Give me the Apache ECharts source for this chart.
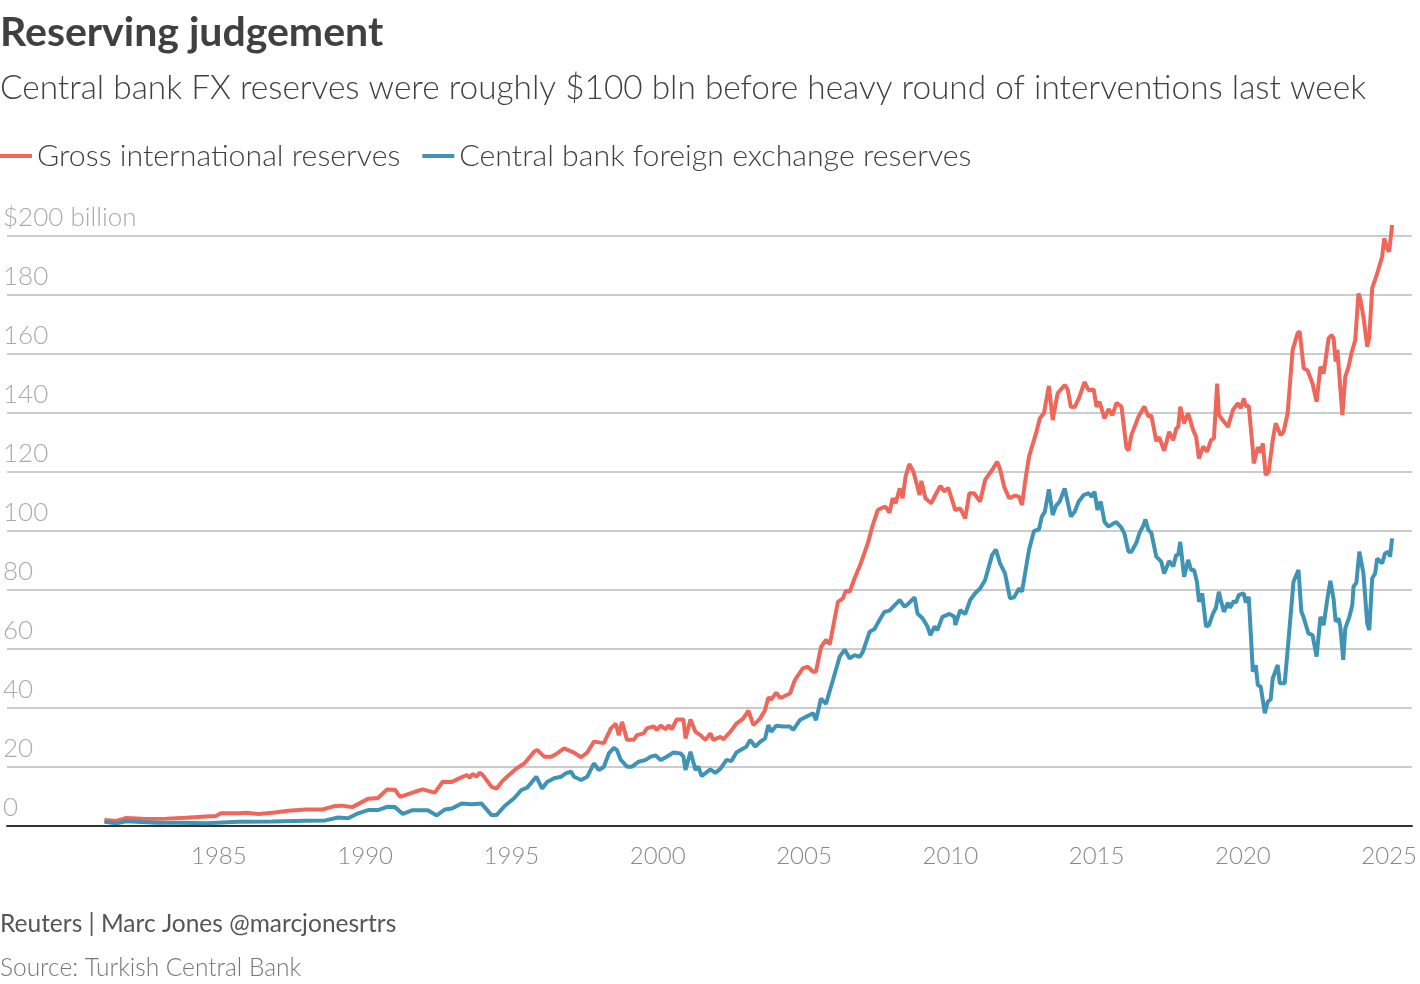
<!DOCTYPE html>
<html>
<head>
<meta charset="utf-8">
<script src="https://cdn.jsdelivr.net/npm/echarts@6/dist/echarts.min.js"></script>
<style>
html,body{margin:0;padding:0;background:#fff;}
#chart{width:1420px;height:984px;}
</style>
</head>
<body>
<div id="chart"></div>
<script>
// Gross international reserves, $ bln: [decimal year, value]
const grossYears = [1981.09,1981.50,1981.84,1982.52,1983.20,1983.88,1984.56,1984.90,1985.07,1985.68,1985.92,1986.36,1986.84,1987.38,1987.96,1988.54,1988.98,1989.22,1989.56,1990.10,1990.44,1990.75,1991.02,1991.19,1991.70,1991.97,1992.38,1992.65,1992.96,1993.16,1993.47,1993.57,1993.67,1993.81,1993.91,1994.01,1994.32,1994.49,1994.69,1994.86,1995.17,1995.44,1995.78,1995.88,1996.12,1996.36,1996.56,1996.80,1997.14,1997.38,1997.59,1997.82,1998.16,1998.40,1998.57,1998.67,1998.78,1998.95,1999.18,1999.29,1999.52,1999.63,1999.86,1999.97,2000.10,2000.27,2000.37,2000.48,2000.65,2000.88,2000.95,2001.12,2001.29,2001.46,2001.63,2001.80,2001.90,2002.14,2002.24,2002.48,2002.69,2002.92,2003.10,2003.27,2003.50,2003.67,2003.78,2003.88,2004.05,2004.19,2004.52,2004.69,2004.96,2005.13,2005.31,2005.41,2005.58,2005.75,2005.88,2006.05,2006.16,2006.33,2006.43,2006.56,2006.73,2006.94,2007.18,2007.35,2007.52,2007.69,2007.79,2007.92,2008.03,2008.13,2008.27,2008.37,2008.47,2008.60,2008.74,2008.95,2009.01,2009.15,2009.35,2009.49,2009.66,2009.79,2009.93,2010.17,2010.34,2010.51,2010.65,2010.81,2011.02,2011.19,2011.43,2011.60,2011.70,2011.84,2012.01,2012.21,2012.35,2012.45,2012.55,2012.69,2012.86,2012.96,2013.06,2013.20,2013.37,2013.50,2013.67,2013.91,2014.01,2014.12,2014.25,2014.39,2014.59,2014.73,2014.90,2015.00,2015.10,2015.27,2015.41,2015.54,2015.68,2015.85,2016.02,2016.09,2016.19,2016.43,2016.63,2016.77,2016.87,2017.04,2017.14,2017.31,2017.48,2017.62,2017.72,2017.79,2017.86,2017.99,2018.13,2018.30,2018.40,2018.50,2018.64,2018.78,2018.91,2019.01,2019.12,2019.18,2019.49,2019.66,2019.83,2019.93,2020.03,2020.10,2020.20,2020.34,2020.37,2020.51,2020.61,2020.68,2020.78,2020.88,2021.02,2021.12,2021.29,2021.39,2021.53,2021.70,2021.87,2021.94,2022.08,2022.21,2022.38,2022.52,2022.65,2022.76,2022.93,2023.03,2023.10,2023.17,2023.23,2023.40,2023.50,2023.61,2023.71,2023.84,2023.95,2024.01,2024.12,2024.25,2024.32,2024.42,2024.59,2024.76,2024.83,2024.93,2025.00,2025.10];
const grossValues = [2.0,1.7,2.7,2.4,2.5,2.8,3.2,3.4,4.3,4.3,4.5,4.1,4.5,5.2,5.6,5.6,6.8,6.9,6.4,9.2,9.5,12.4,12.3,9.9,11.6,12.4,11.3,15.0,14.9,15.9,17.3,16.4,17.6,16.8,18.1,17.4,13.3,12.7,15.2,16.8,19.5,21.2,25.2,25.8,23.5,23.5,24.6,26.3,24.9,23.3,24.9,28.6,28.1,33.1,34.7,30.8,35.3,29.2,29.2,30.8,31.4,33.1,33.8,32.6,34.0,32.8,34.1,32.8,36.1,36.1,29.7,36.1,31.9,30.8,29.2,31.4,29.2,30.2,29.4,31.9,34.7,36.4,39.1,34.2,36.4,39.3,43.6,42.9,45.2,43.4,44.9,49.5,53.4,54.0,52.3,52.3,60.6,63.1,61.6,70.4,76.0,77.2,79.8,79.4,84.0,89.0,95.8,102.0,107.1,108.0,108.2,106.2,111.1,109.4,114.4,111.1,118.4,122.7,120.1,112.2,117.0,111.1,109.4,112.2,115.3,113.4,114.6,107.1,107.7,104.3,112.8,112.8,110.0,117.3,120.7,123.5,121.0,115.0,111.1,112.0,111.6,108.8,116.2,125.2,130.8,134.2,138.2,139.9,149.2,137.6,146.7,149.5,148.0,142.1,142.0,144.9,150.5,147.7,148.0,142.1,143.8,138.2,141.3,139.3,143.4,142.2,128.2,127.3,132.5,138.7,142.2,138.8,139.2,130.5,131.8,127.2,133.6,130.8,134.7,135.3,142.1,136.5,139.9,134.2,132.0,124.6,128.6,126.9,130.8,131.4,150.0,139.3,135.3,141.0,143.3,141.6,144.9,142.4,142.4,127.5,122.9,128.4,126.6,129.7,119.0,120.1,130.8,136.5,132.5,133.6,139.9,161.4,167.0,167.6,155.1,154.5,150.0,143.8,155.7,153.4,165.3,166.4,165.4,157.4,161.4,139.3,152.3,155.6,160.2,164.7,180.5,178.8,172.6,162.5,165.5,182.3,187.3,193.0,199.2,195.8,194.7,203.7];

// Central bank foreign exchange reserves, $ bln
const fxYears = [1981.09,1981.50,1981.84,1982.86,1983.64,1984.56,1985.68,1986.84,1987.96,1988.64,1989.08,1989.42,1989.76,1990.10,1990.44,1990.75,1991.02,1991.29,1991.60,1992.14,1992.45,1992.72,1992.96,1993.30,1993.64,1993.98,1994.32,1994.49,1994.76,1995.10,1995.34,1995.54,1995.85,1996.05,1996.22,1996.46,1996.70,1996.87,1997.04,1997.14,1997.38,1997.59,1997.82,1997.99,1998.16,1998.33,1998.50,1998.61,1998.74,1998.95,1999.12,1999.35,1999.59,1999.76,1999.93,2000.10,2000.31,2000.54,2000.78,2000.88,2000.95,2001.12,2001.29,2001.39,2001.50,2001.80,2001.97,2002.14,2002.35,2002.52,2002.69,2003.03,2003.16,2003.33,2003.50,2003.67,2003.78,2003.88,2004.05,2004.29,2004.52,2004.63,2004.86,2005.07,2005.31,2005.41,2005.58,2005.75,2005.99,2006.22,2006.39,2006.56,2006.73,2006.90,2007.01,2007.24,2007.41,2007.58,2007.75,2007.92,2008.27,2008.44,2008.60,2008.78,2008.88,2009.05,2009.22,2009.32,2009.46,2009.56,2009.73,2009.97,2010.14,2010.17,2010.34,2010.51,2010.68,2010.85,2011.02,2011.19,2011.43,2011.56,2011.70,2011.87,2012.04,2012.18,2012.35,2012.45,2012.69,2012.86,2013.03,2013.13,2013.23,2013.37,2013.50,2013.61,2013.74,2013.91,2014.12,2014.25,2014.39,2014.56,2014.73,2014.83,2014.93,2015.03,2015.14,2015.27,2015.41,2015.58,2015.68,2015.85,2015.95,2016.09,2016.19,2016.36,2016.46,2016.60,2016.67,2016.77,2016.87,2017.04,2017.21,2017.31,2017.48,2017.62,2017.72,2017.79,2017.86,2017.99,2018.13,2018.23,2018.33,2018.43,2018.50,2018.61,2018.74,2018.84,2018.98,2019.08,2019.18,2019.25,2019.35,2019.49,2019.56,2019.69,2019.76,2019.86,2020.03,2020.10,2020.20,2020.27,2020.34,2020.44,2020.51,2020.61,2020.75,2020.85,2020.95,2021.02,2021.19,2021.26,2021.43,2021.56,2021.73,2021.90,2022.00,2022.07,2022.24,2022.38,2022.52,2022.65,2022.76,2022.89,2022.99,2023.10,2023.17,2023.27,2023.33,2023.43,2023.50,2023.64,2023.74,2023.78,2023.88,2023.98,2024.12,2024.25,2024.32,2024.42,2024.52,2024.59,2024.76,2024.86,2024.97,2025.03,2025.10];
const fxValues = [1.4,0.9,1.6,1.1,1.1,0.9,1.4,1.5,1.8,1.9,2.9,2.6,4.3,5.4,5.4,6.5,6.4,4.1,5.3,5.3,3.6,5.6,5.9,7.6,7.4,7.6,3.7,3.7,6.7,9.5,12.2,13.0,16.7,12.7,14.9,16.2,16.7,17.9,18.4,16.7,15.6,16.7,21.2,19.0,20.1,24.6,26.5,25.7,22.4,20.1,20.1,21.8,22.4,23.5,23.9,22.4,23.5,24.9,24.6,23.5,19.0,25.2,19.0,20.1,16.9,19.2,18.0,19.4,22.4,22.0,24.9,26.9,29.2,26.9,28.5,29.7,34.2,32.0,34.0,33.7,33.7,32.6,35.9,37.0,38.2,35.9,43.2,41.4,49.5,57.4,59.8,56.8,57.9,57.3,59.0,65.8,66.8,69.8,72.6,73.0,76.6,74.3,75.7,77.5,72.0,70.4,67.6,64.7,67.6,66.4,70.9,71.9,70.9,68.1,73.2,71.8,76.6,78.9,80.5,83.4,91.9,93.7,89.0,85.6,77.2,77.5,80.5,79.4,93.6,100.0,100.5,104.9,106.5,114.1,105.4,108.5,110.0,114.4,104.9,106.5,110.0,112.2,112.8,111.6,113.3,107.1,110.0,103.1,101.5,102.6,103.0,101.1,99.2,93.0,93.0,96.0,99.2,101.9,103.9,100.3,99.4,91.3,89.6,85.6,89.8,88.0,91.9,91.9,96.3,84.5,90.2,86.8,86.8,82.8,76.0,78.8,67.6,68.1,72.1,74.0,79.4,76.4,72.6,75.7,74.0,76.3,75.7,78.3,78.8,75.7,77.7,65.3,52.3,54.5,47.8,47.2,38.2,42.1,42.9,50.0,54.6,48.4,48.4,63.1,82.8,86.8,72.6,70.9,65.3,64.7,57.4,70.9,68.1,77.2,83.1,76.9,69.3,70.4,67.6,56.3,67.0,70.9,74.9,81.1,82.5,93.0,85.6,68.6,66.4,84.0,85.6,90.7,89.0,92.4,93.0,91.3,97.5];

const xTickLabels = [1985, 1990, 1995, 2000, 2005, 2010, 2015, 2020, 2025];
const yTicks = [0, 20, 40, 60, 80, 100, 120, 140, 160, 180, 200];
const seriesNames = ['Gross international reserves', 'Central bank foreign exchange reserves'];

const FONT = 'Lato';
const RED = '#ef665a';
const BLUE = '#3f93b4';

const zip = (xs, ys) => xs.map((x, i) => [x, ys[i]]);

const chart = echarts.init(document.getElementById('chart'), null, {renderer: 'canvas'});
chart.setOption({
  backgroundColor: '#ffffff',
  animation: false,
  textStyle: {fontFamily: FONT},
  title: [{
    text: 'Reserving judgement',
    left: 0, top: 12, padding: 0,
    textStyle: {fontFamily: FONT, fontSize: 41, fontWeight: 'bold', color: '#404040'}
  }, {
    text: 'Central bank FX reserves were roughly $100 bln before heavy round of interventions last week',
    left: 0, top: 72, padding: 0,
    textStyle: {fontFamily: FONT, fontSize: 33.4, fontWeight: 300, color: '#404040'}
  }],
  legend: {
    left: 0, top: 141, padding: 0,
    itemWidth: 32, itemHeight: 4, itemGap: 22,
    icon: 'rect',
    textStyle: {fontFamily: FONT, fontSize: 30.3, fontWeight: 300, color: '#404040'},
    data: seriesNames
  },
  grid: {left: 0, right: 8, top: 236, bottom: 158, containLabel: false},
  xAxis: {
    type: 'value',
    min: 1977.76, max: 2025.78,
    axisLine: {show: true, onZero: false, lineStyle: {color: '#333', width: 2}},
    axisTick: {show: false},
    splitLine: {show: false},
    axisLabel: {
      customValues: xTickLabels,
      formatter: v => String(Math.round(v)),
      fontFamily: FONT, fontSize: 24, fontWeight: 300, color: '#888', margin: 18
    }
  },
  yAxis: {
    type: 'value',
    min: 0, max: 200, interval: 20,
    offset: 4,
    axisLine: {show: false},
    axisTick: {show: false},
    splitLine: {show: true, lineStyle: {color: '#cccccc', width: 2}},
    axisLabel: {
      inside: true, margin: 0,
      verticalAlign: 'bottom',
      padding: [0, 0, 5, 0],
      formatter: v => (v === 200 ? '$200 billion' : String(v)),
      fontFamily: FONT, fontSize: 26, fontWeight: 300, color: '#aaaaaa'
    }
  },
  series: [{
    name: seriesNames[0], type: 'line', showSymbol: false, symbol: 'none', clip: false,
    lineStyle: {color: RED, width: 4}, itemStyle: {color: RED},
    data: zip(grossYears, grossValues), z: 3
  }, {
    name: seriesNames[1], type: 'line', showSymbol: false, symbol: 'none', clip: false,
    lineStyle: {color: BLUE, width: 4}, itemStyle: {color: BLUE},
    data: zip(fxYears, fxValues), z: 4
  }],
  graphic: [{
    type: 'text', left: 0, top: 912,
    style: {text: 'Reuters | Marc Jones @marcjonesrtrs', fontFamily: FONT, fontSize: 24.5, fontWeight: 400, fill: '#555555'}
  }, {
    type: 'text', left: 0, top: 956,
    style: {text: 'Source: Turkish Central Bank', fontFamily: FONT, fontSize: 24.5, fontWeight: 300, fill: '#777777'}
  }]
});
</script>
</body>
</html>
